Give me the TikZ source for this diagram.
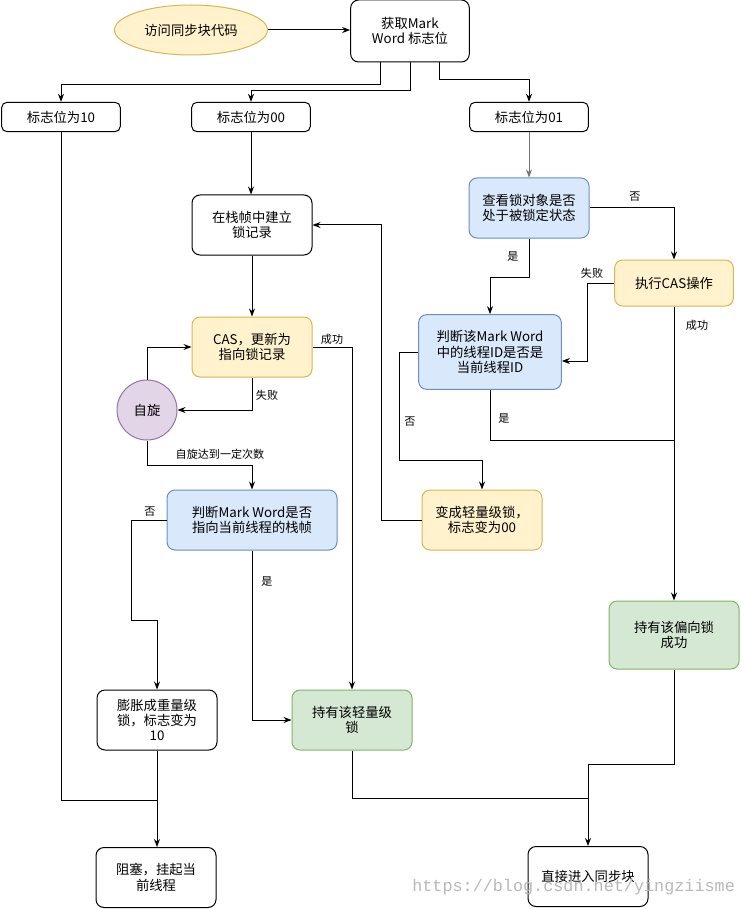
\documentclass[tikz,border=0pt]{standalone}
\usepackage{fontspec}
\setmainfont{Noto Sans CJK SC}
\newfontfamily\wmfont{Liberation Mono}
\usetikzlibrary{arrows.meta,shapes.geometric}
\definecolor{yfill}{HTML}{FFF2CC}\definecolor{ydraw}{HTML}{D6B656}
\definecolor{bfill}{HTML}{DAE8FC}\definecolor{bdraw}{HTML}{6C8EBF}
\definecolor{gfill}{HTML}{D5E8D4}\definecolor{gdraw}{HTML}{82B366}
\definecolor{pfill}{HTML}{E1D5E7}\definecolor{pdraw}{HTML}{9673A6}
\begin{document}
\begin{tikzpicture}[x=0.75pt,y=-0.75pt,
  every node/.style={font=\fontsize{10}{11.5}\selectfont},
  box/.style={draw, line width=0.75pt, rounded corners=6pt, align=center, inner sep=1pt,
    minimum width=90pt, minimum height=45pt, fill=white},
  sbox/.style={box, rounded corners=4pt, minimum width=89pt, minimum height=22pt},
  yel/.style={fill=yfill, draw=ydraw},
  blu/.style={fill=bfill, draw=bdraw},
  grn/.style={fill=gfill, draw=gdraw},
  lbl/.style={font=\fontsize{8.3}{9}\selectfont, inner sep=0pt},
  ln/.style={draw, line width=0.75pt},
  arr/.style={ln, -{Stealth[length=6pt,width=4.5pt]}}]
\useasboundingbox (0,0) rectangle (740,909);

% nodes
\node[draw=ydraw, fill=yfill, ellipse, line width=0.75pt, minimum width=114.75pt, minimum height=37.5pt, inner sep=0pt] (start) at (191,30) {访问同步块代码};
\node[box, minimum width=89pt, minimum height=46.5pt] (mw) at (410,31) {获取Mark\\Word 标志位};
\node[sbox] (f10) at (61,117) {标志位为10};
\node[sbox] (f00) at (251,117) {标志位为00};
\node[sbox] (f01) at (529,117) {标志位为01};
\node[box] (stack) at (252,225) {在栈帧中建立\\锁记录};
\node[box,yel] (cas) at (252,347) {CAS，更新为\\指向锁记录};
\node[circle, draw=pdraw, fill=pfill, line width=0.75pt, minimum size=45pt, inner sep=0pt] (spin) at (147,410) {自旋};
\node[box,blu, minimum width=127.5pt] (judge1) at (252,520) {判断Mark Word是否\\指向当前线程的栈帧};
\node[box] (inflate) at (157,720) {膨胀成重量级\\锁，标志变为\\10};
\node[box,grn] (light) at (352,720) {持有该轻量级\\锁};
\node[box] (block) at (156,877.5) {阻塞，挂起当\\前线程};
\node[box] (enter) at (588,876.5) {直接进入同步块};
\node[box,blu] (check) at (529,208) {查看锁对象是否\\处于被锁定状态};
\node[box,yel, minimum width=89pt, minimum height=34.5pt] (cas2) at (674,283) {执行CAS操作};
\node[box,blu, minimum width=107pt, minimum height=56pt] (judge2) at (490,352) {判断该Mark Word\\中的线程ID是否是\\当前线程ID};
\node[box,yel] (tolight) at (482,520) {变成轻量级锁，\\标志变为00};
\node[box,grn, minimum width=97.5pt, minimum height=51pt] (bias) at (674,635) {持有该偏向锁\\成功};

% junction coordinates
\coordinate (j10) at (157,800);
\coordinate (j2) at (588,798);
\coordinate (j3) at (674,440);

% connectors
\draw[arr] (start.east) -- (start.east -| mw.west);
\draw[arr] ([xshift=-22pt]mw.south) -- ++(0,22) -| (f10.north);
\draw[arr] (mw.south) -- ++(0,28) -| (f00.north);
\draw[arr] ([xshift=22pt]mw.south) -- ++(0,17) -| (f01.north);
\draw[ln] (f10.south) |- (j10);
\draw[arr] (f00.south) -- (f00.south |- stack.north);
\draw[arr] (stack) -- (cas);
\draw[arr] (cas.south) |- (spin.east);
\draw[arr] (spin.north) |- (cas.west);
\draw[arr] (spin.south) -- ++(0,25) -| (judge1.north);
\draw[arr] (cas.east) -| (light.north);
\draw[arr] (judge1.west) -- ++(-35,0) -- ++(0,100) -| (inflate.north);
\draw[arr] (judge1.south) |- (light.west);
\draw[arr] (inflate.south) -- (inflate.south |- block.north);
\draw[ln] (light.south) |- (j2);
\draw[arr] (bias.south) -- ++(0,95) -| (enter.north);
\draw[arr, draw=black!55] (f01) -- (check);
\draw[arr] (check.east) -| (cas2.north);
\draw[arr] (check.south) -- ++(0,39) -| (judge2.north);
\draw[arr] (cas2.west) -- ++(-27,0) |- ([yshift=-6.75pt]judge2.east);
\draw[arr] (cas2.south) -- (bias.north);
\draw[ln] (judge2.south) |- (j3);
\draw[arr] (judge2.west) -- ++(-19,0) -- ++(0,108) -| (tolight.north);
\draw[arr] (tolight.west) -- ++(-40,0) |- (stack.east);

% labels
\node[lbl] (l1) at (267,395) {失败};
\node[lbl] (l2) at (332,339) {成功};
\node[lbl] (l3) at (220,454) {自旋达到一定次数};
\node[lbl] (l4) at (150,512) {否};
\node[lbl] (l5) at (267,582) {是};
\node[lbl] (l6) at (635,197) {否};
\node[lbl] (l7) at (513,257) {是};
\node[lbl] (l8) at (592,273) {失败};
\node[lbl] (l9) at (697,325) {成功};
\node[lbl] (l10) at (504,419) {是};
\node[lbl] (l11) at (410,422) {否};

% watermark
\node[anchor=west, inner sep=0pt, text=black!28, font=\wmfont\fontsize{12.6}{13}\selectfont] (wm) at (412,887) {https://blog.csdn.net/yingziisme};
\end{tikzpicture}
\end{document}
